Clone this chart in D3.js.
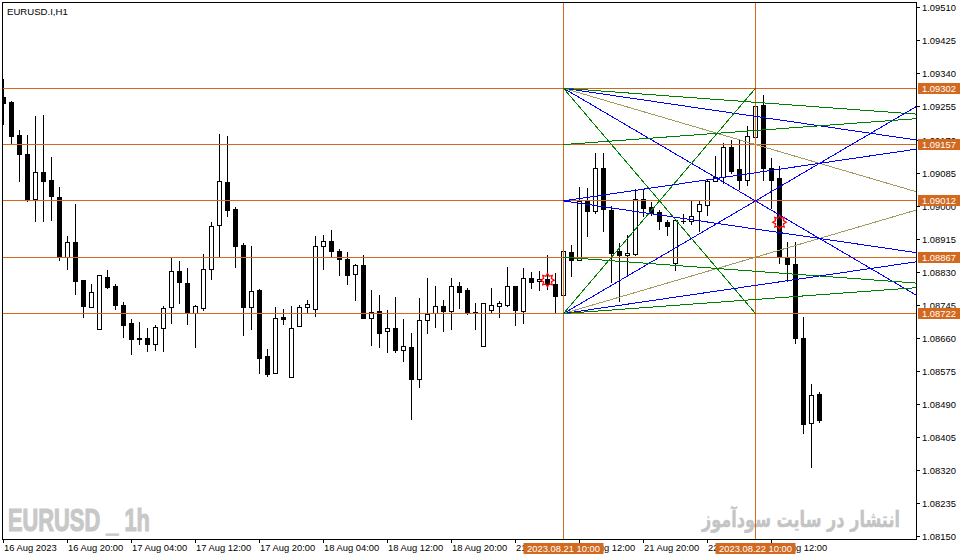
<!DOCTYPE html>
<html><head><meta charset="utf-8">
<script src="https://cdn.jsdelivr.net/npm/d3@7"></script>
<style>body{margin:0;background:#fff}svg{display:block}text{font-family:"Liberation Sans",Arial,sans-serif}</style>
</head><body>
<svg id="c" width="962" height="560"></svg>
<script>
// ---- data (EURUSD.I H1, bar 0 = 16 Aug 2023 12:00) ----
const open=[1.09280,1.09266,1.09182,1.09133,1.09016,1.09086,1.09066,1.09021,1.08867,1.08906,
1.08808,1.08740,1.08683,1.08815,1.08793,1.08743,1.08697,1.08657,1.08658,1.08643,
1.08684,1.08738,1.08831,1.08801,1.08724,1.08737,1.08836,1.08949,1.09061,1.08991,
1.08898,1.08740,1.08783,1.08612,1.08568,1.08713,1.08559,1.08689,1.08738,1.08733,
1.08895,1.08909,1.08884,1.08862,1.08823,1.08846,1.08710,1.08728,1.08676,1.08685,
1.08629,1.08635,1.08554,1.08705,1.08724,1.08741,1.08729,1.08793,1.08783,1.08725,
1.08638,1.08732,1.08742,1.08745,1.08792,1.08729,1.08813,1.08805,1.08811,1.08797,
1.08769,1.08880,1.08859,1.09012,1.08987,1.09096,1.08988,1.08883,1.08873,1.08876,
1.09017,1.08996,1.08983,1.08958,1.08851,1.08961,1.08959,1.08985,1.09002,1.09064,
1.09073,1.09150,1.09093,1.09065,1.09176,1.09259,1.09097,1.09071,1.08866,1.08850,
1.08660,1.08439,1.08515];
const high=[1.09325,1.09269,1.09194,1.09182,1.09230,1.09233,1.09126,1.09047,1.08922,1.09004,
1.08808,1.08798,1.08820,1.08834,1.08797,1.08752,1.08707,1.08699,1.08685,1.08692,
1.08741,1.08866,1.08857,1.08839,1.08744,1.08875,1.08958,1.09184,1.09179,1.08996,
1.08904,1.08896,1.08784,1.08631,1.08739,1.08733,1.08741,1.08743,1.08756,1.08922,
1.08924,1.08937,1.08887,1.08880,1.08850,1.08873,1.08783,1.08770,1.08731,1.08764,
1.08708,1.08672,1.08762,1.08813,1.08793,1.08757,1.08813,1.08803,1.08787,1.08748,
1.08748,1.08788,1.08753,1.08841,1.08792,1.08838,1.08829,1.08832,1.08872,1.08826,
1.08883,1.08899,1.09047,1.09046,1.09136,1.09136,1.09000,1.08904,1.08924,1.09043,
1.09043,1.09010,1.08989,1.08964,1.08962,1.08977,1.09012,1.09012,1.09069,1.09127,
1.09160,1.09169,1.09169,1.09205,1.09256,1.09284,1.09122,1.09102,1.08906,1.08906,
1.08714,1.08541,1.08520];
const low=[1.09209,1.09158,1.09063,1.09012,1.08961,1.08961,1.08963,1.08860,1.08837,1.08773,
1.08714,1.08740,1.08683,1.08788,1.08734,1.08662,1.08617,1.08643,1.08626,1.08629,
1.08626,1.08698,1.08750,1.08696,1.08637,1.08732,1.08811,1.08868,1.08974,1.08843,
1.08667,1.08683,1.08570,1.08562,1.08568,1.08696,1.08559,1.08689,1.08727,1.08716,
1.08837,1.08868,1.08822,1.08799,1.08758,1.08710,1.08642,1.08637,1.08624,1.08622,
1.08601,1.08450,1.08532,1.08671,1.08688,1.08678,1.08683,1.08735,1.08720,1.08683,
1.08638,1.08726,1.08714,1.08741,1.08693,1.08698,1.08789,1.08782,1.08784,1.08727,
1.08769,1.08819,1.08859,1.08921,1.08980,1.08935,1.08804,1.08753,1.08820,1.08873,
1.08973,1.08976,1.08940,1.08925,1.08834,1.08954,1.08953,1.08934,1.08976,1.09064,
1.09057,1.09085,1.09042,1.09053,1.09176,1.09067,1.08993,1.08853,1.08806,1.08647,
1.08414,1.08328,1.08444];
const close=[1.09263,1.09180,1.09132,1.09014,1.09086,1.09063,1.09025,1.08868,1.08905,1.08806,
1.08742,1.08777,1.08820,1.08791,1.08745,1.08693,1.08657,1.08659,1.08643,1.08687,
1.08736,1.08831,1.08804,1.08724,1.08741,1.08836,1.08947,1.09063,1.08989,1.08897,
1.08740,1.08780,1.08608,1.08567,1.08710,1.08709,1.08684,1.08739,1.08746,1.08895,
1.08908,1.08882,1.08862,1.08822,1.08846,1.08711,1.08727,1.08673,1.08684,1.08629,
1.08638,1.08554,1.08705,1.08721,1.08741,1.08729,1.08792,1.08778,1.08723,1.08723,
1.08748,1.08743,1.08748,1.08792,1.08732,1.08813,1.08804,1.08811,1.08799,1.08768,
1.08883,1.08859,1.09012,1.08987,1.09096,1.08990,1.08879,1.08872,1.08877,1.09017,
1.08993,1.08982,1.08959,1.08947,1.08962,1.08959,1.08973,1.09003,1.09062,1.09074,
1.09150,1.09090,1.09065,1.09178,1.09256,1.09097,1.09067,1.08868,1.08849,1.08660,
1.08437,1.08512,1.08449];

const xTickIndex=[0,8,16,24,32,40,48,56,64,72,80,88,96];
const xTickLabels=["16 Aug 2023","16 Aug 20:00","17 Aug 04:00","17 Aug 12:00","17 Aug 20:00","18 Aug 04:00","18 Aug 12:00","18 Aug 20:00","21 Aug 04:00","21 Aug 12:00","21 Aug 20:00","22 Aug 04:00","22 Aug 12:00"];
const yTicks=[1.08150,1.08235,1.08320,1.08405,1.08490,1.08575,1.08660,1.08745,1.08830,1.08915,1.09000,1.09085,1.09170,1.09255,1.09340,1.09425,1.09510];
const levels=[1.09302,1.09157,1.09012,1.08867,1.08722];
const vIndex=[70,94];
const vLabels=["2023.08.21 10:00","2023.08.22 10:00"];
const markerIndex=[68,97];
const markerPrice=[1.08808,1.08957];
// fan / grid lines: origin price, direction (-1 = price falls), fraction of box slope, kind
const fanOrigin=[1.09302,1.09302,1.09302,1.09302,1.09302, 1.08722,1.08722,1.08722,1.08722,1.08722, 1.09157,1.09012,1.09012,1.08867];
const fanDir   =[-1,-1,-1,-1,-1, 1,1,1,1,1, 1,1,-1,-1];
const fanFrac  =[1,1/2,1/4,1/8,1/16, 1,1/2,1/4,1/8,1/16, 1/16,1/8,1/8,1/16];
const fanKind  =["green","blue","olive","blue","green","green","blue","olive","blue","green","green","blue","blue","green"];
const title="EURUSD.I,H1";
const watermark1="EURUSD _ 1h";
const watermark2="انتشار در سایت سودآموز";

// ---- layout ----
const L=2,T=2,R=916,B=539;
const colors={green:"#008000",blue:"#0000ff",olive:"#a39a5e",level:"#d2691e"};
const svg=d3.select("#c");
const x=d3.scaleLinear().domain([-0.125,114.125]).range([L,R]);
const y=d3.scaleLinear().domain([1.081416,1.09524]).range([B,T]);
const fmt=d3.format(".5f");
const px=v=>Math.round(v)+0.5;

svg.append("defs").append("clipPath").attr("id","plot").append("rect").attr("x",L).attr("y",T).attr("width",R-L).attr("height",B-T);

// watermarks
const wm=svg.append("g");
const w1=wm.append("text").text(watermark1).attr("font-size",31).attr("font-weight","bold").attr("fill","#c8c8c8")
  .attr("stroke","#c8c8c8").attr("stroke-width",1.2);
const w1w=w1.node().getComputedTextLength();
w1.attr("transform",`translate(8,531) scale(${142/w1w},1)`);
const w2=wm.append("text").text(watermark2).attr("font-size",22).attr("font-weight","bold").attr("fill","#c4c4c4")
  .attr("stroke","#c4c4c4").attr("stroke-width",0.4).style("font-family","'DejaVu Sans','Noto Sans',sans-serif");
const w2w=w2.node().getComputedTextLength();
w2.attr("transform",`translate(702,527) scale(${198/w2w},1)`);

// candles
const cg=svg.append("g").attr("clip-path","url(#plot)");
open.forEach((o,i)=>{
  const c=close[i], col=Math.round(x(i)), cx=col+0.5;
  cg.append("line").attr("x1",cx).attr("x2",cx).attr("y1",Math.round(y(high[i]))).attr("y2",Math.round(y(low[i]))+1).attr("stroke","#000");
  const yt=Math.round(y(Math.max(o,c))), yb=Math.round(y(Math.min(o,c)));
  if(yb-yt<1){
    cg.append("line").attr("x1",col-2).attr("x2",col+3).attr("y1",yt+0.5).attr("y2",yt+0.5).attr("stroke","#000");
  } else {
    cg.append("rect").attr("x",col-1.5).attr("y",yt+0.5).attr("width",4).attr("height",yb-yt)
      .attr("fill",c>=o?"#fff":"#000").attr("stroke","#000");
  }
});

// objects
const og=svg.append("g").attr("clip-path","url(#plot)");
levels.forEach(p=>{
  const yy=Math.floor(y(p))+0.5;
  og.append("line").attr("x1",L).attr("x2",R).attr("y1",yy).attr("y2",yy).attr("stroke",colors.level).attr("shape-rendering","crispEdges");
});
vIndex.forEach(i=>{
  const cx=Math.round(x(i))+0.5;
  og.append("line").attr("x1",cx).attr("x2",cx).attr("y1",T).attr("y2",B).attr("stroke",colors.level).attr("shape-rendering","crispEdges");
});
const i0=vIndex[0], span=vIndex[1]-vIndex[0], boxH=levels[0]-levels[4];
fanOrigin.forEach((p0,k)=>{
  const iEnd=fanFrac[k]===1?vIndex[1]:x.domain()[1];
  const p1=p0+fanDir[k]*fanFrac[k]*boxH*(iEnd-i0)/span;
  og.append("line").attr("x1",x(i0)+0.5).attr("y1",y(p0)).attr("x2",x(iEnd)+0.5).attr("y2",y(p1))
    .attr("stroke",colors[fanKind[k]]).attr("stroke-width",1).attr("shape-rendering","crispEdges");
});
// alert markers (starbursts)
const star=d3.lineRadial().curve(d3.curveLinearClosed);
markerIndex.forEach((mi,k)=>{
  const pts=d3.range(16).map(j=>[j*Math.PI/8,j%2?4.2:6.8]);
  og.append("path").attr("d",star(pts)).attr("transform",`translate(${Math.round(x(mi))+0.5},${y(markerPrice[k])})`)
    .attr("fill","none").attr("stroke","#ff0000").attr("stroke-width",1.2);
});

// frame
const fg=svg.append("g").attr("stroke","#000").attr("shape-rendering","crispEdges");
fg.append("line").attr("x1",L+0.5).attr("x2",L+0.5).attr("y1",T).attr("y2",B+1);
fg.append("line").attr("x1",L).attr("x2",R+1).attr("y1",T+0.5).attr("y2",T+0.5);
fg.append("line").attr("x1",R+0.5).attr("x2",R+0.5).attr("y1",T).attr("y2",B+1);
fg.append("line").attr("x1",L).attr("x2",R+1).attr("y1",B+0.5).attr("y2",B+0.5);

// right axis
const ra=svg.append("g");
yTicks.forEach(t=>{
  const yy=Math.round(y(t));
  ra.append("line").attr("x1",R).attr("x2",R+4).attr("y1",yy+0.5).attr("y2",yy+0.5).attr("stroke","#000");
  ra.append("text").attr("x",922).attr("y",yy+3.5).attr("font-size",9.4).attr("fill","#000").text(fmt(t));
});
levels.forEach(p=>{
  const yy=Math.floor(y(p));
  ra.append("rect").attr("x",918).attr("y",yy-5).attr("width",42).attr("height",11).attr("fill",colors.level);
  ra.append("text").attr("x",922).attr("y",yy+3.5).attr("font-size",9.4).attr("fill","#fff").text(fmt(p));
});

// bottom axis
const ba=svg.append("g");
xTickIndex.forEach((i,k)=>{
  const cx=Math.round(x(i))+0.5;
  ba.append("line").attr("x1",cx).attr("x2",cx).attr("y1",B).attr("y2",B+4).attr("stroke","#000");
  ba.append("text").attr("x",cx+0.5).attr("y",551).attr("font-size",9.4).attr("fill","#000").text(xTickLabels[k]);
});
vIndex.forEach((i,k)=>{
  const cx=Math.round(x(i))+0.5;
  ba.append("rect").attr("x",cx-40).attr("y",543).attr("width",80).attr("height",11).attr("fill",colors.level);
  ba.append("text").attr("x",cx).attr("y",551.5).attr("text-anchor","middle").attr("font-size",9.4).attr("fill","#fff").text(vLabels[k]);
});

// title
svg.append("text").attr("x",7).attr("y",14.5).attr("font-size",9.6).attr("fill","#000").text(title);
</script>
</body></html>
